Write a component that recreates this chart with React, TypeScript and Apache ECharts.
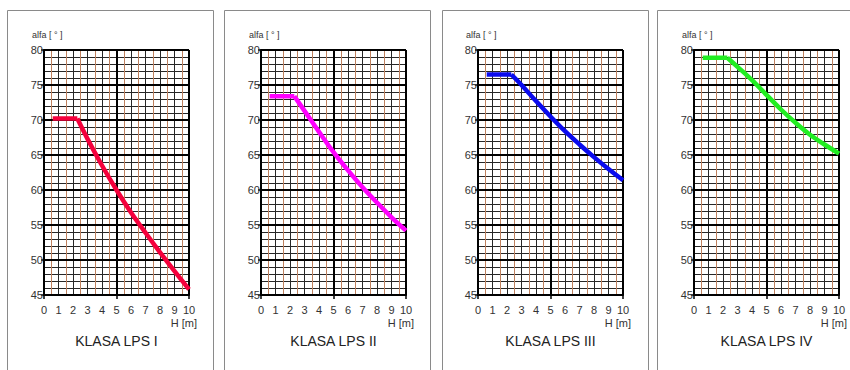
import React, { useEffect, useRef } from "react";
import * as echarts from "echarts";

// Data
const hValues = [0.6, 2.3, 3, 4, 5, 6, 7, 8, 9, 10];
const alfaLPS1 = [70.2, 70.2, 67.3, 63.5, 60.0, 56.8, 53.9, 51.1, 48.4, 45.8];
const alfaLPS2 = [73.4, 73.4, 71.3, 68.3, 65.4, 62.8, 60.4, 58.2, 56.1, 54.2];
const alfaLPS3 = [76.5, 76.5, 75.0, 72.7, 70.5, 68.4, 66.5, 64.7, 63.0, 61.4];
const alfaLPS4 = [78.9, 78.9, 77.6, 75.7, 73.6, 71.5, 69.6, 67.9, 66.5, 65.2];
const classTitles = ["KLASA LPS I", "KLASA LPS II", "KLASA LPS III", "KLASA LPS IV"];
const classColors = ["#f5003c", "#ff00ff", "#0a0aee", "#22ee22"];
const xLabel = "H [m]";
const yLabel = "alfa [ ° ]";

const allSeries = [alfaLPS1, alfaLPS2, alfaLPS3, alfaLPS4];

// layout
const boxLefts = [7, 224, 442, 657];
const plotLefts = [44, 261, 478, 694];
const plotW = 145;
const plotTop = 50;
const plotH = 245;

const FONT = "'Liberation Sans Narrow', 'Liberation Sans', Arial, sans-serif";
const THIN = "#262626";
const BROWN = "#bd805e";

export default function App() {
  const ref = useRef<HTMLDivElement>(null);
  useEffect(() => {
    if (!ref.current) return;
    const chart = echarts.init(ref.current, undefined, { renderer: "svg" });
    const grids: any[] = [];
    const xAxes: any[] = [];
    const yAxes: any[] = [];
    const series: any[] = [];
    const graphics: any[] = [];
    allSeries.forEach((vals, i) => {
      grids.push({ left: plotLefts[i], top: plotTop, width: plotW, height: plotH, containLabel: false });
      xAxes.push({
        type: "value", gridIndex: i, min: 0, max: 10, interval: 1, position: "bottom", z: 0,
        axisLine: { show: false }, axisTick: { show: false },
        axisLabel: { fontSize: 11, color: "#333", margin: 9, fontFamily: FONT },
        splitLine: { show: true, lineStyle: { color: THIN, width: 1 } },
        minorTick: { show: false, splitNumber: 2 },
        minorSplitLine: { show: true, lineStyle: { color: BROWN, width: 1 } },
      });
      xAxes.push({
        type: "value", gridIndex: i, min: 0, max: 10, interval: 5, position: "bottom", z: 1,
        axisLine: { show: true, lineStyle: { color: "#000", width: 2 } },
        axisTick: { show: true, length: 4, lineStyle: { color: "#000", width: 1.5 } },
        axisLabel: { show: false },
        splitLine: { show: true, lineStyle: { color: "#000", width: 2 } },
      });
      yAxes.push({
        type: "value", gridIndex: i, min: 45, max: 80, interval: 1, position: "left", z: 0,
        axisLine: { show: false }, axisTick: { show: false }, axisLabel: { show: false },
        splitLine: { show: true, lineStyle: { color: THIN, width: 1 } },
      });
      yAxes.push({
        type: "value", gridIndex: i, min: 45, max: 80, interval: 5, position: "left", z: 1,
        axisLine: { show: true, lineStyle: { color: "#000", width: 2 } },
        axisTick: { show: true, length: 3, lineStyle: { color: "#000", width: 1.5 } },
        axisLabel: { fontSize: 11, color: "#333", margin: 1, fontFamily: FONT },
        splitLine: { show: true, lineStyle: { color: "#000", width: 2 } },
      });
      const pts = hValues.map((h, k) => [h, vals[k]]);
      // flat part (constant angle) and the descending curve
      series.push({
        type: "line", xAxisIndex: 2 * i, yAxisIndex: 2 * i, z: 5,
        data: pts.slice(0, 2),
        symbol: "none", smooth: false,
        lineStyle: { color: classColors[i], width: 4.5 },
      });
      series.push({
        type: "line", xAxisIndex: 2 * i, yAxisIndex: 2 * i, z: 5,
        data: pts.slice(1),
        symbol: "none", smooth: 0.35,
        lineStyle: { color: classColors[i], width: 4.5 },
      });
      graphics.push({
        type: "rect", z: -10,
        shape: { x: boxLefts[i] + 0.5, y: 10.5, width: 206, height: 400 },
        style: { fill: "#fff", stroke: "#8a8a8a", lineWidth: 1 },
      });
      graphics.push({
        type: "text", x: plotLefts[i] - 12, y: 35,
        style: { text: yLabel, fontSize: 9, fill: "#333", fontFamily: FONT, verticalAlign: "middle" },
      });
      graphics.push({
        type: "text", x: plotLefts[i] + plotW + 8, y: 323,
        style: { text: xLabel, fontSize: 11, fill: "#333", fontFamily: FONT, align: "right", verticalAlign: "middle" },
      });
      graphics.push({
        type: "text", x: plotLefts[i] + plotW / 2, y: 341,
        style: { text: classTitles[i], fontSize: 14, fill: "#222", fontFamily: FONT, align: "center", verticalAlign: "middle" },
      });
    });
    chart.setOption({
      animation: false,
      backgroundColor: "#fff",
      grid: grids,
      xAxis: xAxes,
      yAxis: yAxes,
      series,
      graphic: graphics,
    });
    return () => chart.dispose();
  }, []);
  return <div ref={ref} style={{ position: "absolute", left: 0, top: 0, width: 850, height: 370 }} />;
}
